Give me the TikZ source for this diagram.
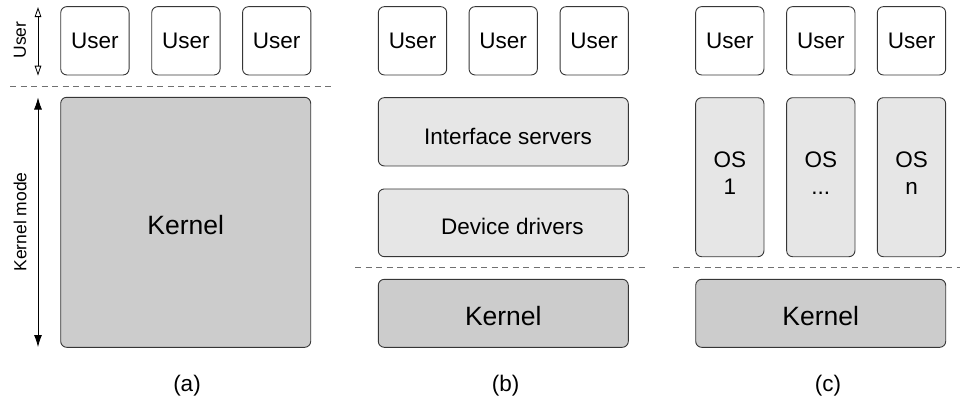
\documentclass[tikz,border=0pt]{standalone}
\usepackage{fontspec}
\setmainfont{Liberation Sans}
\usetikzlibrary{arrows.meta,calc}
\definecolor{kgray}{HTML}{CCCCCC}
\definecolor{lgray}{HTML}{E6E6E6}
\definecolor{edge}{HTML}{363636}
\definecolor{dashc}{HTML}{707070}
\begin{document}
\begin{tikzpicture}[x=1pt,y=-1pt,
  box/.style={draw=edge, line width=0.9pt, rounded corners=6pt, inner sep=0pt},
  ubox/.style={box, fill=white, minimum width=68.3pt, minimum height=68.3pt, font=\fontsize{22.5}{26}\selectfont},
  kbox/.style={box, fill=kgray},
  lbox/.style={box, fill=lgray},
  txt/.style={inner sep=0pt, font=\fontsize{22.5}{27}\selectfont, align=center},
  ktxt/.style={inner sep=0pt, font=\fontsize{26.5}{30}\selectfont},
  sidetxt/.style={inner sep=0pt, rotate=90, font=\fontsize{17.5}{20}\selectfont},
  sep/.style={draw=dashc, line width=0.9pt, dash pattern=on 6pt off 4.5pt},
]
\useasboundingbox (0,0) rectangle (960,400);

% ---------- panel (a)
\node[ubox] (ua1) at (94.9,40.8) {User};
\node[ubox] (ua2) at (185.9,40.8) {User};
\node[ubox] (ua3) at (276.7,40.8) {User};
\node[kbox, minimum width=250pt, minimum height=250pt] (ka) at (185.7,222.3) {};
\node[ktxt] (kat) at ($(ka)+(0,3)$) {Kernel};

\coordinate (sa) at (10,86);
\coordinate (ea) at (333,86);
\draw[sep] (sa) -- (ea);

\coordinate (ut) at (38,7);
\coordinate (ub) at (38,75.7);
\draw[line width=0.8pt, {Triangle[open,width=6.5pt,length=10pt]}-{Triangle[open,width=6.5pt,length=10pt]}] (ut) -- (ub);
\node[sidetxt] (ul) at (20,40) {User};

\coordinate (kt) at (38,97.5);
\coordinate (kb) at (38,347);
\draw[line width=0.8pt, {Latex[width=8pt,length=12pt]}-{Latex[width=8pt,length=12pt]}] (kt) -- (kb);
\node[sidetxt] (kl) at (20,222) {Kernel mode};

\node[txt] (capa) at (187,386) {(a)};

% ---------- panel (b)
\node[ubox] (ub1) at (412.5,40.8) {User};
\node[ubox] (ub2) at (503.2,40.8) {User};
\node[ubox] (ub3) at (594.2,40.8) {User};
\node[lbox, minimum width=250pt, minimum height=68.3pt] (ifs) at (503.3,131.8) {};
\node[txt] (ifst) at ($(ifs)+(4.7,4.5)$) {Interface servers};
\node[lbox, minimum width=250pt, minimum height=67.7pt] (dd) at (503.3,222.8) {};
\node[txt] (ddt) at ($(dd)+(9,4)$) {Device drivers};
\node[kbox, minimum width=250pt, minimum height=68pt] (kb2) at (503.3,313.3) {};
\node[ktxt] (kbt) at ($(kb2)+(0,3)$) {Kernel};

\coordinate (sb) at (355,267.7);
\coordinate (eb) at (648,267.7);
\draw[sep] (sb) -- (eb);

\node[txt] (capb) at (505.5,386) {(b)};

% ---------- panel (c)
\node[ubox] (uc1) at (729.8,40.8) {User};
\node[ubox] (uc2) at (820.8,40.8) {User};
\node[ubox] (uc3) at (911.5,40.8) {User};
\node[lbox, minimum width=68.3pt, minimum height=159pt] (os1) at (729.8,177.2) {};
\node[lbox, minimum width=68.3pt, minimum height=159pt] (os2) at (820.8,177.2) {};
\node[lbox, minimum width=68.3pt, minimum height=159pt] (os3) at (911.5,177.2) {};
\node[txt] (os1t) at ($(os1)+(0,-4)$) {OS\\1};
\node[txt] (os2t) at ($(os2)+(0,-4)$) {OS\\...};
\node[txt] (os3t) at ($(os3)+(0,-4)$) {OS\\n};
\node[kbox, minimum width=250pt, minimum height=68pt] (kc) at (820.7,313.3) {};
\node[ktxt] (kct) at ($(kc)+(0,3)$) {Kernel};

\coordinate (sc) at (673,267.7);
\coordinate (ec) at (960,267.7);
\draw[sep] (sc) -- (ec);

\node[txt] (capc) at (828,386) {(c)};
\end{tikzpicture}
\end{document}
